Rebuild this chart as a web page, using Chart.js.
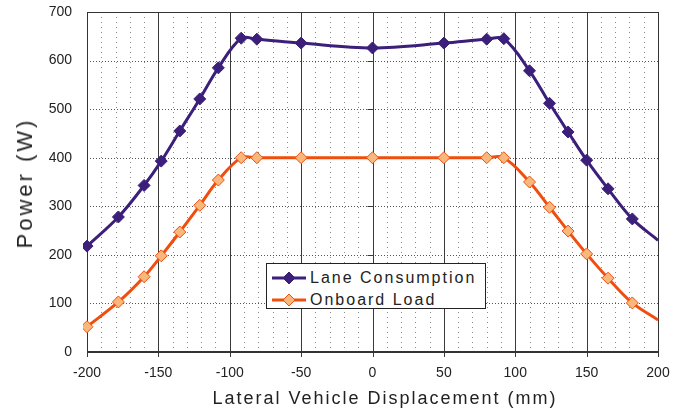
<!DOCTYPE html>
<html>
<head>
<meta charset="utf-8">
<script src="https://cdn.jsdelivr.net/npm/chart.js@4"></script>
<style>
  html, body { margin: 0; padding: 0; background: #fff; }
  #wrap { position: relative; width: 682px; height: 414px; font-family: Arial, "Liberation Sans", sans-serif; color: #222; }
  #chart { position: absolute; left: 0; top: 0; }
  .y-title {
    position: absolute; left: 25px; top: 183px;
    transform: translate(-50%, -50%) rotate(-90deg);
    font-size: 22px; letter-spacing: 3px; white-space: nowrap;
  }
  .x-title {
    position: absolute; left: 385px; top: 398px;
    transform: translate(-50%, -50%);
    font-size: 18px; letter-spacing: 2px; white-space: nowrap;
  }
  .legend {
    position: absolute; left: 266px; top: 263px; width: 220px; height: 46px;
    background: #fff; border: 1px solid #222; box-sizing: border-box;
    padding: 3px 0 0 5px;
  }
  .legend-row { display: flex; align-items: center; height: 22px; }
  .legend-row svg { margin-right: 4px; }
  .legend-row span { font-size: 16px; letter-spacing: 2px; white-space: nowrap; }
</style>
</head>
<body>
<div id="wrap">
  <canvas id="chart" width="682" height="414"></canvas>
  <div class="y-title">Power (W)</div>
  <div class="x-title">Lateral Vehicle Displacement (mm)</div>
  <div class="legend" id="legend"></div>
</div>
<script>
// ── data ────────────────────────────────────────────────────
const displacement = [-200, -178, -160, -148, -135, -121, -108, -92, -81, -50, 0,
                      50, 80, 92, 110, 124, 137, 150, 165, 182, 200];
const laneConsumption = [218, 278, 343, 393, 455, 521, 585, 646, 644, 636, 626,
                         636, 644, 645, 579, 512, 453, 395, 336, 274, 230];
const onboardLoad = [52, 103, 155, 198, 247, 302, 354, 400, 400, 400, 400,
                     400, 400, 400, 350, 298, 249, 202, 152, 101, 66];

const X_MIN = -200, X_MAX = 200, X_MAJOR = 50, X_MINOR = 10;
const Y_MIN = 0, Y_MAX = 700, Y_STEP = 100;

const SERIES = [
  { label: 'Lane Consumption', data: laneConsumption, line: '#3b1f7a', fill: '#3b1f7a' },
  { label: 'Onboard Load',     data: onboardLoad,     line: '#f04e0e', fill: '#f8b87c' },
];

// Excel-style plot area: dotted minor grid, solid major verticals, frame
const gridPlugin = {
  id: 'excelGrid',
  beforeDatasetsDraw(chart) {
    const { ctx, chartArea: a, scales: { x, y } } = chart;
    const vline = (px, y0, y1) => { ctx.beginPath(); ctx.moveTo(px, y0); ctx.lineTo(px, y1); ctx.stroke(); };
    const hline = (py, x0, x1) => { ctx.beginPath(); ctx.moveTo(x0, py); ctx.lineTo(x1, py); ctx.stroke(); };
    ctx.save();
    ctx.lineWidth = 1;

    ctx.strokeStyle = '#8c8c8c';
    ctx.setLineDash([1, 4]);
    for (let v = X_MIN; v <= X_MAX; v += X_MINOR) {
      if (v % X_MAJOR === 0) continue;
      vline(Math.round(x.getPixelForValue(v)) + 0.5, a.top, a.bottom);
    }

    ctx.strokeStyle = '#555';
    ctx.setLineDash([1, 2]);
    for (let v = Y_MIN + Y_STEP; v < Y_MAX; v += Y_STEP) {
      hline(Math.round(y.getPixelForValue(v)) + 0.5, a.left, a.right);
    }

    ctx.setLineDash([]);
    ctx.strokeStyle = '#3a3a3a';
    for (let v = X_MIN + X_MAJOR; v < X_MAX; v += X_MAJOR) {
      vline(Math.round(x.getPixelForValue(v)) + 0.5, a.top, a.bottom);
    }

    // value axis crosses at 0: short ticks on its left
    const x0 = Math.round(x.getPixelForValue(0)) + 0.5;
    for (let v = Y_MIN + Y_STEP; v < Y_MAX; v += Y_STEP) {
      hline(Math.round(y.getPixelForValue(v)) + 0.5, x0 - 6, x0);
    }

    // category axis tick marks
    for (let v = X_MIN; v <= X_MAX; v += X_MAJOR) {
      vline(Math.round(x.getPixelForValue(v)) + 0.5, a.bottom, a.bottom + 5);
    }

    // frame
    ctx.strokeStyle = '#333';
    ctx.strokeRect(Math.round(a.left) + 0.5, Math.round(a.top) + 0.5,
                   Math.round(a.right - a.left), Math.round(a.bottom - a.top));
    ctx.lineWidth = 2;
    hline(Math.round(a.bottom), a.left, a.right);
    ctx.restore();
  },
};

const datasets = SERIES.map(s => ({
  label:                s.label,
  data:                 displacement.map((d, i) => ({ x: d, y: s.data[i] })),
  borderColor:          s.line,
  borderWidth:          3,
  tension:              0.35,
  pointStyle:           'rectRot',
  pointRadius:          ctx => (ctx.dataIndex === displacement.length - 1 ? 0 : 6),
  pointBackgroundColor: s.fill,
  pointBorderColor:     s.line,
  pointBorderWidth:     1,
  fill:                 false,
  clip:                 4,
}));

new Chart(document.getElementById('chart'), {
  type: 'line',
  data: { datasets },
  options: {
    responsive:       false,
    animation:        false,
    devicePixelRatio: 1,
    layout: { padding: { top: 12, right: 24, left: 0, bottom: 0 } },
    plugins: { legend: { display: false }, tooltip: { enabled: false } },
    scales: {
      x: {
        type: 'linear',
        min:  X_MIN,
        max:  X_MAX,
        grid:   { display: false },
        border: { display: false },
        ticks: {
          stepSize: X_MAJOR,
          padding:  5,
          color:    '#222',
          font:     { family: 'Arial, "Liberation Sans", sans-serif', size: 14 },
          maxRotation: 0,
        },
        afterFit: (scale) => { scale.height = 62; },
      },
      y: {
        min: Y_MIN,
        max: Y_MAX,
        // invisible tick length keeps labels off the frame without padding the top
        grid:   { display: true, drawOnChartArea: false, tickLength: 15, color: 'transparent' },
        border: { display: false },
        ticks: {
          stepSize: Y_STEP,
          padding:  0,
          color:    '#222',
          font:     { family: 'Arial, "Liberation Sans", sans-serif', size: 14 },
        },
        afterFit: (scale) => { scale.width = 87; },
      },
    },
  },
  plugins: [gridPlugin],
});

// legend box drawn as html
document.getElementById('legend').innerHTML = SERIES.map(s => `
  <div class="legend-row">
    <svg width="34" height="14">
      <line x1="0" y1="7" x2="34" y2="7" stroke="${s.line}" stroke-width="3"/>
      <polygon points="17,1 23,7 17,13 11,7" fill="${s.fill}" stroke="${s.line}" stroke-width="1"/>
    </svg>
    <span>${s.label}</span>
  </div>`).join('');
</script>
</body>
</html>
